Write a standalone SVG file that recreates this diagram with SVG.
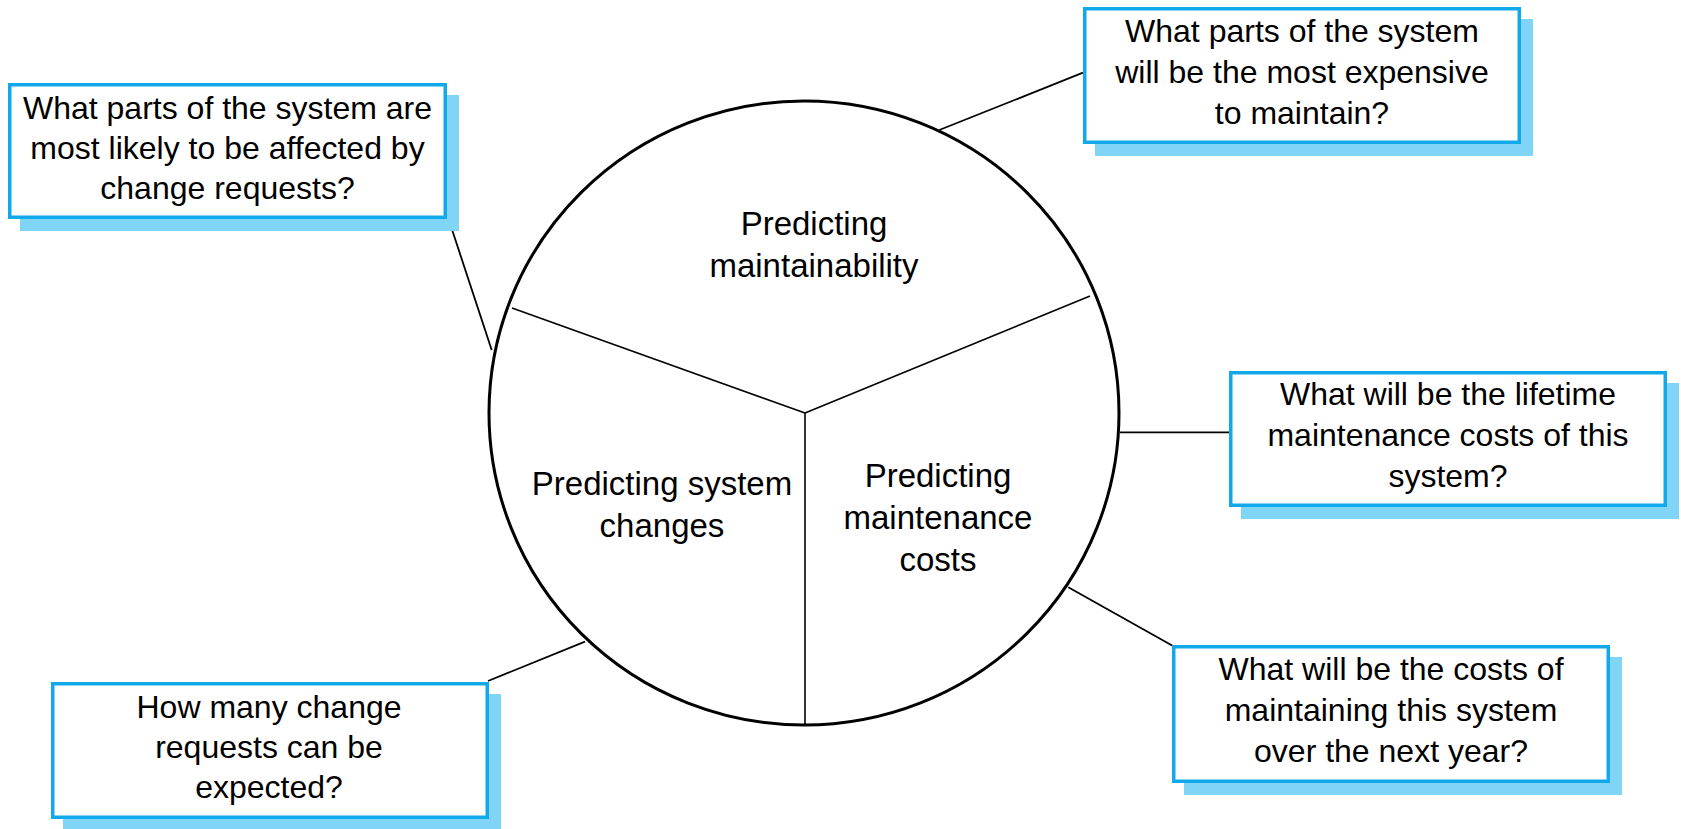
<svg xmlns="http://www.w3.org/2000/svg" width="1681" height="829" viewBox="0 0 1681 829">
<style>
.shadow{fill:#80d4f6;stroke:none}
.box{fill:#ffffff;stroke:#12a9ea;stroke-width:3.5}
.conn{stroke:#000;stroke-width:1.8;fill:none}
.spoke{stroke:#000;stroke-width:1.6;fill:none}
.t{font-family:"Liberation Sans",Arial,sans-serif;font-size:32px;fill:#000;text-anchor:middle}
.c{font-family:"Liberation Sans",Arial,sans-serif;font-size:33px;fill:#000;text-anchor:middle}
</style>
<rect width="1681" height="829" fill="#ffffff"/>
<g id="connectors">
<line class="conn" x1="448.3" y1="218.3" x2="491.7" y2="350"/>
<line class="conn" x1="939.3" y1="130" x2="1083" y2="72.7"/>
<line class="conn" x1="1120" y1="432.3" x2="1230" y2="432.3"/>
<line class="conn" x1="1068.3" y1="587.3" x2="1173" y2="646"/>
<line class="conn" x1="585" y1="641.7" x2="488" y2="681"/>
</g>
<g id="wheel">
<ellipse cx="804" cy="413" rx="315" ry="312" fill="#ffffff" stroke="#000" stroke-width="3"/>
<line class="spoke" x1="805" y1="413" x2="512" y2="308"/>
<line class="spoke" x1="805" y1="413" x2="1090" y2="296"/>
<line class="spoke" x1="805" y1="413" x2="805" y2="724"/>
</g>
<g id="seg-maintainability">
<text class="c" x="814" y="235">Predicting</text>
<text class="c" x="814" y="277">maintainability</text>
</g>
<g id="seg-changes">
<text class="c" x="662" y="495">Predicting system</text>
<text class="c" x="662" y="537">changes</text>
</g>
<g id="seg-costs">
<text class="c" x="938" y="487">Predicting</text>
<text class="c" x="938" y="529">maintenance</text>
<text class="c" x="938" y="571">costs</text>
</g>
<g id="q-affected">
<rect class="shadow" x="20" y="95" width="439" height="136"/>
<rect class="box" x="9.75" y="84.75" width="435.5" height="132.5"/>
<text class="t" x="227.5" y="119">What parts of the system are</text>
<text class="t" x="227.5" y="159">most likely to be affected by</text>
<text class="t" x="227.5" y="199">change requests?</text>
</g>
<g id="q-expensive">
<rect class="shadow" x="1095" y="19" width="438" height="137"/>
<rect class="box" x="1084.75" y="8.75" width="434.5" height="133.5"/>
<text class="t" x="1302" y="42">What parts of the system</text>
<text class="t" x="1302" y="83">will be the most expensive</text>
<text class="t" x="1302" y="124">to maintain?</text>
</g>
<g id="q-lifetime">
<rect class="shadow" x="1241" y="383" width="438" height="136"/>
<rect class="box" x="1230.75" y="372.75" width="434.5" height="132.5"/>
<text class="t" x="1448" y="405">What will be the lifetime</text>
<text class="t" x="1448" y="446">maintenance costs of this</text>
<text class="t" x="1448" y="487">system?</text>
</g>
<g id="q-nextyear">
<rect class="shadow" x="1184" y="657" width="438" height="138"/>
<rect class="box" x="1173.75" y="646.75" width="434.5" height="134.5"/>
<text class="t" x="1391" y="680">What will be the costs of</text>
<text class="t" x="1391" y="721">maintaining this system</text>
<text class="t" x="1391" y="762">over the next year?</text>
</g>
<g id="q-howmany">
<rect class="shadow" x="63" y="694" width="438" height="137"/>
<rect class="box" x="52.75" y="683.75" width="434.5" height="133.5"/>
<text class="t" x="269" y="718">How many change</text>
<text class="t" x="269" y="758">requests can be</text>
<text class="t" x="269" y="798">expected?</text>
</g>
</svg>
